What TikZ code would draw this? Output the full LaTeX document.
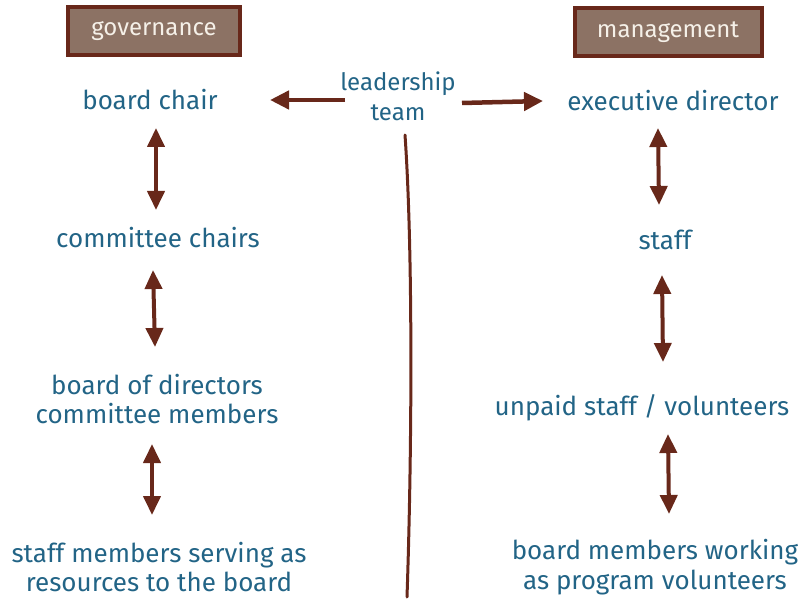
\documentclass[tikz,border=0pt]{standalone}
\usepackage{fontspec}
\setmainfont{Fira Sans}
\definecolor{ink}{RGB}{34, 100, 134}
\definecolor{rust}{RGB}{104, 40, 26}
\definecolor{boxfill}{RGB}{140, 114, 100}
\definecolor{paper}{RGB}{245, 240, 232}
\usetikzlibrary{arrows.meta}

\tikzset{
    role/.style={text=ink, font=\fontsize{26}{29.5}\selectfont, align=center, inner sep=0pt},
    headbox/.style={draw=rust, fill=boxfill, line width=4pt, minimum height=48pt, text=paper, font=\fontsize{24}{28}\selectfont},
    dbl/.style={rust, line width=4pt, {Triangle[width=17pt,length=19pt]}-{Triangle[width=17pt,length=19pt]}},
    onearrow/.style={rust, line width=4.5pt, -{Triangle[width=18pt,length=19pt]}},
}

\begin{document}
\begin{tikzpicture}[x=1pt,y=-1pt]
    \useasboundingbox (0,0) rectangle (811,601);

    \node[headbox, minimum width=172pt] (gov) at (154,31) {governance};
    \node[headbox, minimum width=187pt] (mgmt) at (668,32) {management};

    \node[role, font=\fontsize{24}{30}\selectfont] (lead) at (398,96) {leadership\\team};

    \node[role] (bchair) at (150,100) {board chair};
    \node[role] (cchairs) at (158,238) {committee chairs};
    \node[role] (bod) at (157,399) {board of directors\\committee members};
    \node[role] (smem) at (159,567) {staff members serving as\\resources to the board};

    \node[role] (exec) at (673,101) {executive director};
    \node[role] (staff) at (665,240) {staff};
    \node[role] (unpaid) at (642,408) {unpaid staff / volunteers};
    \node[role] (bmem) at (655,567) {board members working\\as program volunteers};

    \draw[onearrow] ([xshift=-53pt,yshift=-4pt]lead.center) -- ([xshift=120pt]bchair.center);
    \draw[onearrow] ([xshift=64pt,yshift=-7pt]lead.center) -- ([xshift=-130pt]exec.center);

    \draw[dbl] ([xshift=6pt,yshift=-28pt]bchair.center) -- ([xshift=-2pt,yshift=28pt]cchairs.center);
    \draw[dbl] ([xshift=-5pt,yshift=-32pt]cchairs.center) -- ([xshift=-2pt,yshift=52pt]bod.center);
    \draw[dbl] ([xshift=-5pt,yshift=-45pt]bod.center) -- ([xshift=-7pt,yshift=52pt]smem.center);

    \draw[dbl] ([xshift=-15pt,yshift=-27pt]exec.center) -- ([xshift=-6pt,yshift=35pt]staff.center);
    \draw[dbl] ([xshift=-3pt,yshift=-35pt]staff.center) -- ([xshift=21pt,yshift=46pt]unpaid.center);
    \draw[dbl] ([xshift=26pt,yshift=-26pt]unpaid.center) -- ([xshift=14pt,yshift=53pt]bmem.center);

    \coordinate (septop) at (405,135);
    \coordinate (sepbot) at (407,597);
    \draw[rust, line width=3pt, line cap=round] (septop) .. controls (413,250) and (412,450) .. (sepbot);
\end{tikzpicture}
\end{document}
